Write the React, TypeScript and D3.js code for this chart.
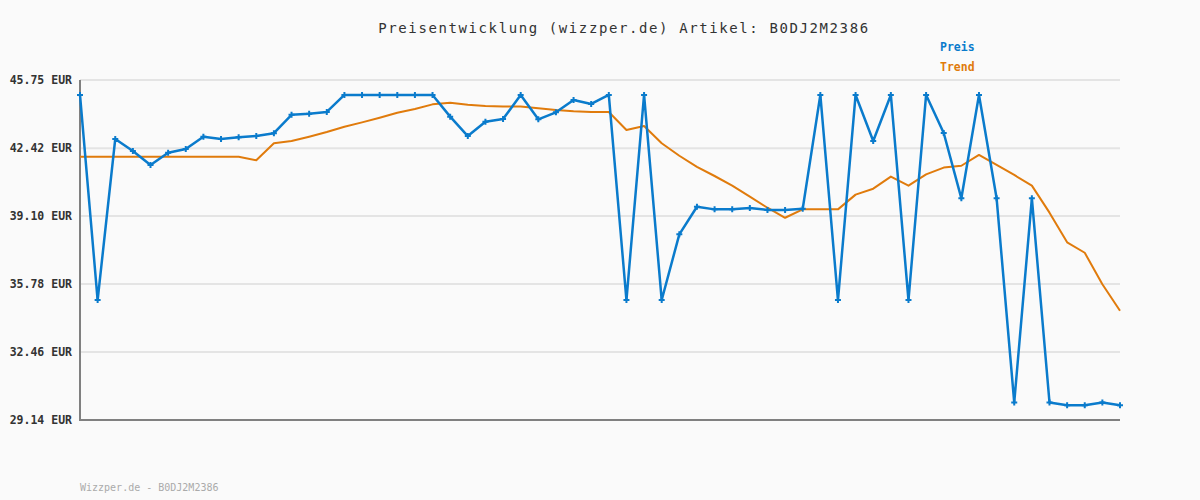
import * as d3 from "d3";

// price history, 60 samples
const preis = [
  45.02, 35.0, 42.87, 42.28, 41.6, 42.2, 42.38, 42.98, 42.87, 42.95,
  43.01, 43.15, 44.05, 44.1, 44.19, 45.02, 45.02, 45.02, 45.02, 45.02,
  45.02, 43.96, 43.01, 43.71, 43.84, 45.02, 43.83, 44.17, 44.77, 44.58,
  45.02, 35.0, 45.02, 35.0, 38.21, 39.56, 39.43, 39.43, 39.5, 39.4,
  39.4, 39.46, 45.02, 35.0, 45.02, 42.77, 45.02, 35.0, 45.02, 43.16,
  39.97, 45.02, 39.97, 30.0, 39.97, 30.0, 29.86, 29.86, 30.0, 29.86,
];

const trend = [
  42.0, 42.0, 42.0, 42.0, 42.0, 42.0, 42.0, 42.0, 42.0, 42.0,
  41.83, 42.66, 42.77, 42.98, 43.21, 43.47, 43.68, 43.91, 44.15, 44.33,
  44.56, 44.64, 44.54, 44.48, 44.45, 44.45, 44.37, 44.28, 44.22, 44.19,
  44.19, 43.31, 43.5, 42.66, 42.05, 41.51, 41.06, 40.59, 40.05, 39.51,
  39.02, 39.43, 39.43, 39.43, 40.15, 40.44, 41.03, 40.59, 41.14, 41.47,
  41.56, 42.09, 41.6, 41.11, 40.59, 39.27, 37.82, 37.31, 35.77, 34.48,
];

const yTicks = [29.14, 32.46, 35.78, 39.1, 42.42, 45.75];

const title = "Preisentwicklung (wizzper.de) Artikel: B0DJ2M2386";
const footer = "Wizzper.de - B0DJ2M2386";
const legendItems = ["Preis", "Trend"];

const W = 1200;
const H = 500;
const left = 80;
const right = 1120;
const top = 80;
const bottom = 420;
const mono = "'DejaVu Sans Mono', monospace";
const blue = "#0a7bcc";
const orange = "#e07b0c";

export default function App() {
  const x = d3.scaleLinear().domain([0, preis.length - 1]).range([left, right]);
  const y = d3.scaleLinear().domain([29.14, 45.75]).range([bottom, top]);

  const line = d3
    .line<number>()
    .x((_, i) => x(i))
    .y((d) => y(d));

  const cross = d3.symbol().type(d3.symbolCross).size(20)();

  return (
    <svg
      width={W}
      height={H}
      style={{ position: "absolute", left: 0, top: 0, background: "#fafafa" }}
    >
      <rect width={W} height={H} fill="#fafafa" />
      <text
        x={624}
        y={33}
        textAnchor="middle"
        fontFamily={mono}
        fontSize={14}
        letterSpacing={1.6}
        fill="#333"
      >
        {title}
      </text>

      {legendItems.map((name, i) => (
        <text
          key={name}
          x={940}
          y={51 + i * 20}
          fontFamily={mono}
          fontSize={11.5}
          fontWeight="bold"
          fill={i === 0 ? blue : orange}
        >
          {name}
        </text>
      ))}

      {yTicks.map((t) => (
        <g key={t}>
          <line x1={left} x2={right} y1={y(t)} y2={y(t)} stroke="#e4e4e4" strokeWidth={2} />
          <text
            x={72}
            y={y(t) + 4}
            textAnchor="end"
            fontFamily={mono}
            fontSize={11.5}
            fontWeight="bold"
            fill="#333"
          >
            {t.toFixed(2)} EUR
          </text>
        </g>
      ))}

      <path d={`M${left},${top} V${bottom} H${right}`} fill="none" stroke="#808080" strokeWidth={2} />

      <path d={line(trend) ?? ""} fill="none" stroke={orange} strokeWidth={2} strokeLinejoin="round" />
      <path d={line(preis) ?? ""} fill="none" stroke={blue} strokeWidth={2.5} strokeLinejoin="round" />
      {preis.map((d, i) => (
        <path key={i} d={cross ?? ""} transform={`translate(${x(i)},${y(d)})`} fill={blue} />
      ))}

      <text x={80} y={491} fontFamily={mono} fontSize={10} fill="#aaa">
        {footer}
      </text>
    </svg>
  );
}
